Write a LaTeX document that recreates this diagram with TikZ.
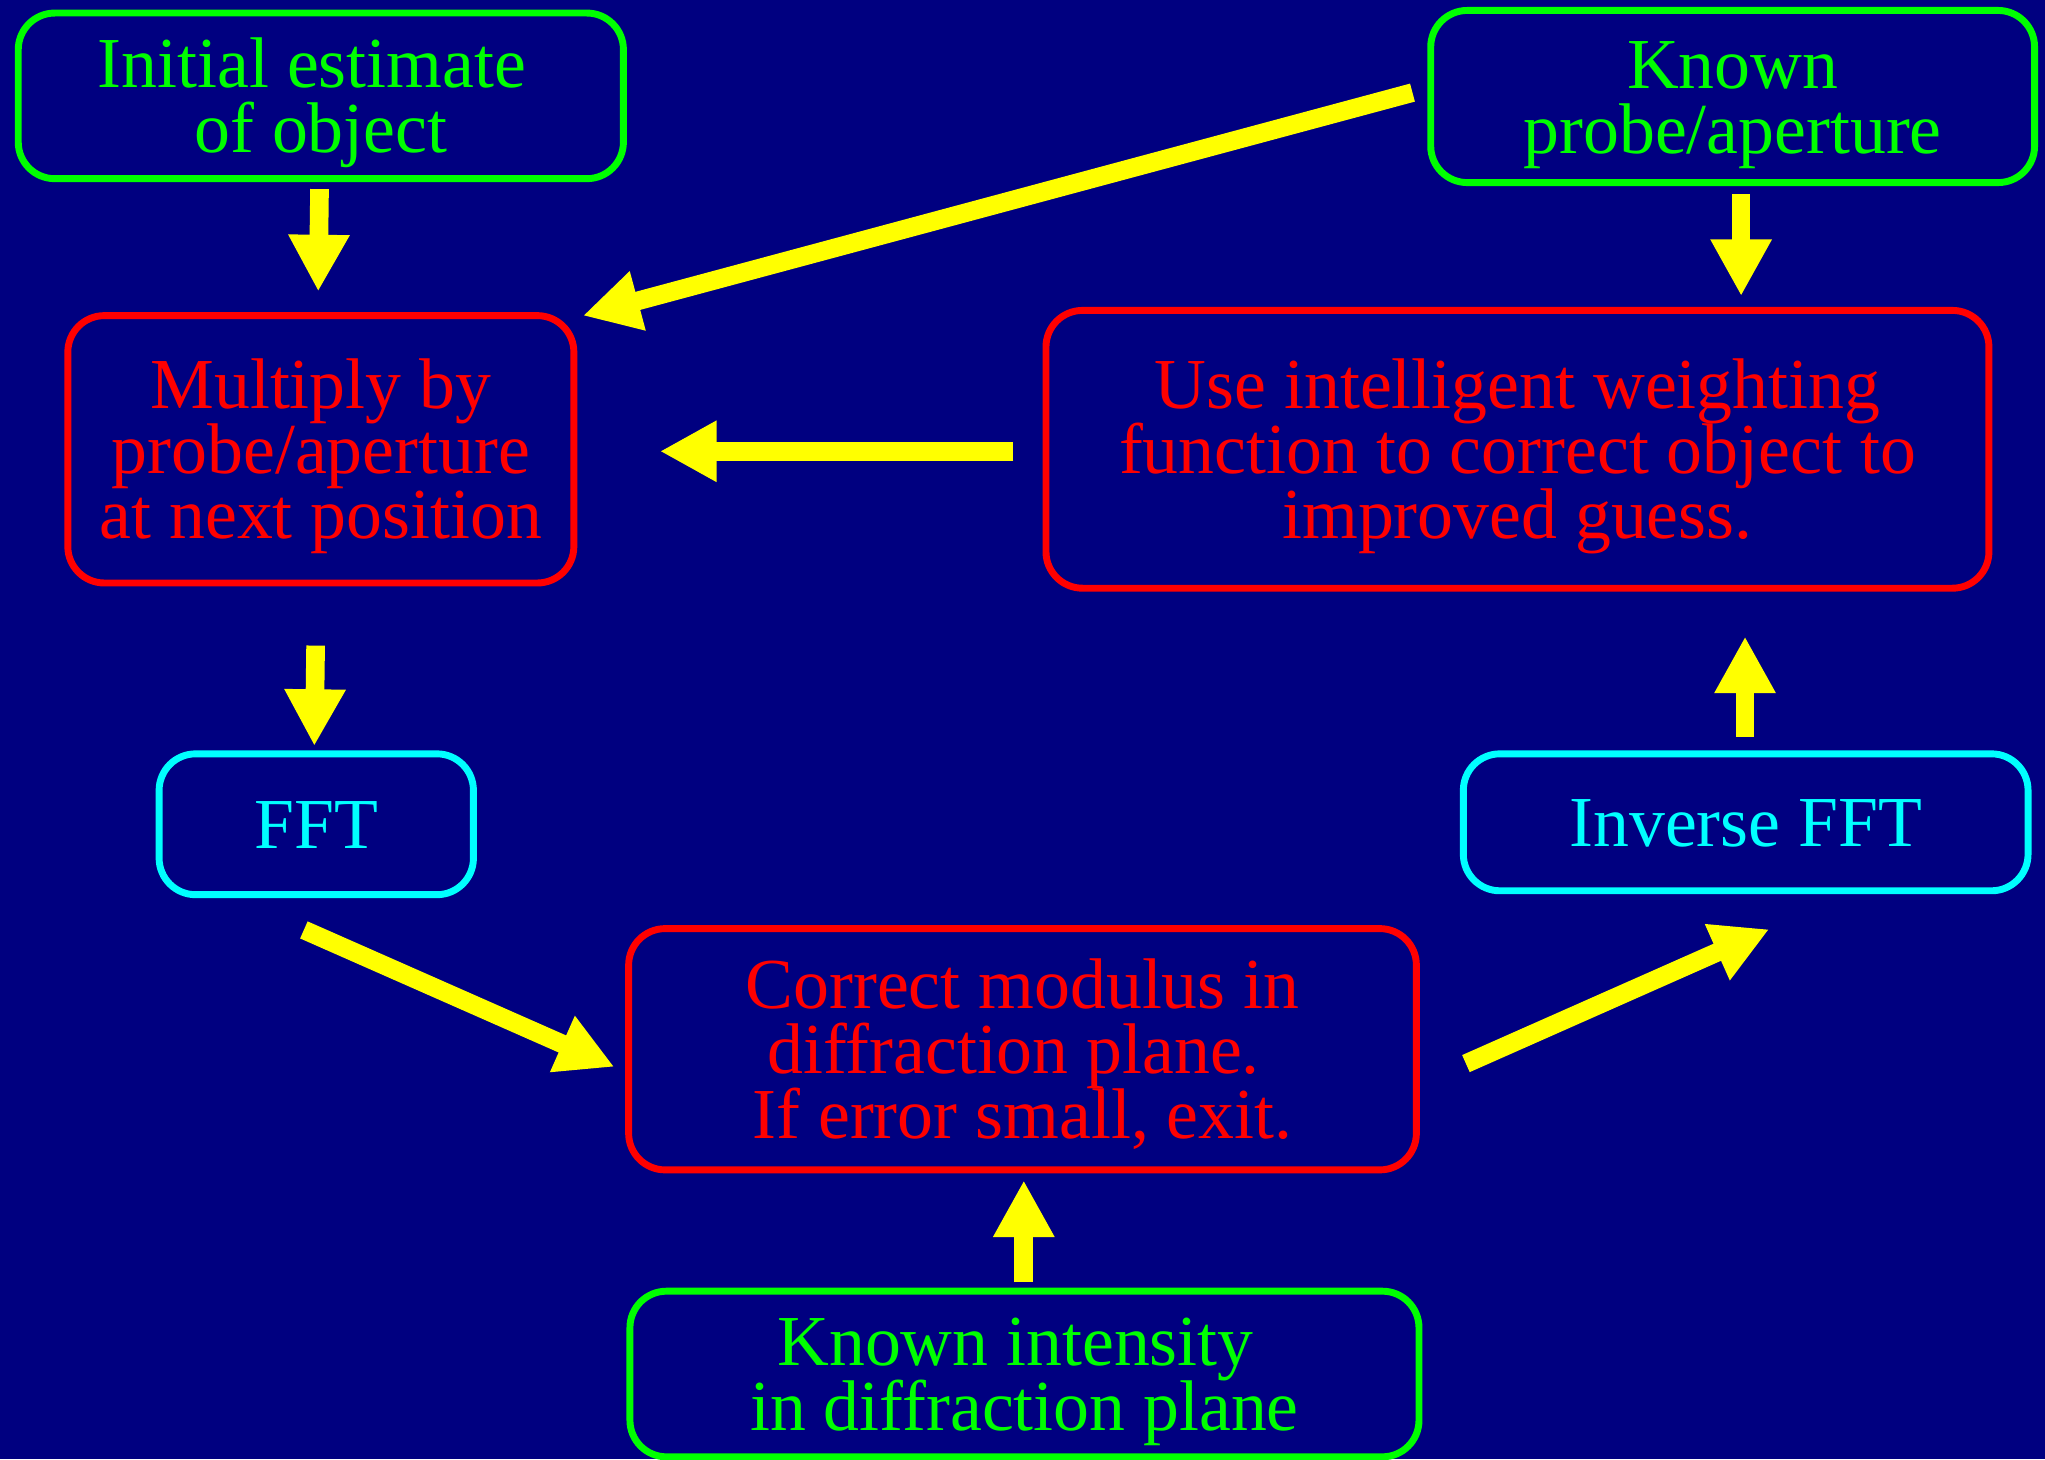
\documentclass[tikz,border=0pt]{standalone}
\usepackage{fontspec}
\setmainfont{Liberation Serif}
\usetikzlibrary{arrows.meta}
\definecolor{bgnavy}{RGB}{0,0,128}
\definecolor{boxgreen}{RGB}{0,255,0}
\definecolor{boxred}{RGB}{255,0,0}
\definecolor{boxcyan}{RGB}{0,255,255}
\definecolor{arrowyellow}{RGB}{255,255,0}
\newcommand\topstrut{\rule{0pt}{50pt}}
\newcommand\botstrut{\rule[-13pt]{0pt}{13pt}}
\newcommand\tsp{\kern13.75pt}
\setlength{\lineskiplimit}{-100pt}
\begin{document}
\begin{tikzpicture}[x=1pt,y=-1pt,
  box/.style={draw, line width=5.3pt, rounded corners=28pt, align=center, inner sep=0pt,
    font=\fontsize{55}{50}\selectfont},
  greenbox/.style={box, draw=boxgreen, text=boxgreen},
  redbox/.style={box, draw=boxred, text=boxred},
  cyanbox/.style={box, draw=boxcyan, text=boxcyan},
  blockarrow/.style={draw=arrowyellow, line width=14.3pt, line cap=butt,
    -{Triangle[width=44pt,length=43.5pt]}}]
\useasboundingbox (0,0) rectangle (1568,1119);
\fill[bgnavy] (0,0) rectangle (1568,1119);

\node[greenbox, minimum width=464pt, minimum height=127pt] (init) at (246,73.5)
  {\topstrut Initial estimate\tsp\\of object\botstrut};
\node[greenbox, minimum width=463pt, minimum height=132pt] (probe) at (1328.5,74)
  {\topstrut Known\\probe/aperture\botstrut};
\node[redbox, minimum width=388pt, minimum height=205pt] (mult) at (246,344.5)
  {\topstrut Multiply by\\probe/aperture\\at next position\botstrut};
\node[redbox, minimum width=723pt, minimum height=213pt] (weight) at (1163.5,344.5)
  {\topstrut Use intelligent weighting\\function to correct object to\\improved guess.\botstrut};
\node[cyanbox, minimum width=241pt, minimum height=108pt] (fft) at (242.5,632)
  {\topstrut FFT\botstrut};
\node[cyanbox, minimum width=433pt, minimum height=105pt] (ifft) at (1338.5,630.5)
  {\topstrut Inverse FFT\botstrut};
\node[redbox, minimum width=604pt, minimum height=185pt] (corr) at (784,804.5)
  {\topstrut Correct modulus in\\diffraction plane.\tsp\\If error small, exit.\botstrut};
\node[greenbox, minimum width=605pt, minimum height=127pt] (intens) at (785.5,1053.5)
  {\topstrut Known intensity\tsp\\in diffraction plane\botstrut};

% arrow end points
\coordinate (a1s) at (245,145);  \coordinate (a1e) at (244,223.5);
\coordinate (a2s) at (1335,149); \coordinate (a2e) at (1335,227);
\coordinate (a3s) at (1083,71);  \coordinate (a3e) at (447,242);
\coordinate (a4s) at (777,346);  \coordinate (a4e) at (506,346);
\coordinate (a5s) at (242,495);  \coordinate (a5e) at (241,572);
\coordinate (a6s) at (233,713);  \coordinate (a6e) at (471,818);
\coordinate (a7s) at (1124,815.5); \coordinate (a7e) at (1356.5,712.5);
\coordinate (a8s) at (1338,565); \coordinate (a8e) at (1338,488);
\coordinate (a9s) at (785,983);  \coordinate (a9e) at (785,905);

\draw[blockarrow] (a1s) -- (a1e);
\draw[blockarrow] (a2s) -- (a2e);
\draw[blockarrow] (a3s) -- (a3e);
\draw[blockarrow] (a4s) -- (a4e);
\draw[blockarrow] (a5s) -- (a5e);
\draw[blockarrow] (a6s) -- (a6e);
\draw[blockarrow] (a7s) -- (a7e);
\draw[blockarrow] (a8s) -- (a8e);
\draw[blockarrow] (a9s) -- (a9e);
\end{tikzpicture}
\end{document}
